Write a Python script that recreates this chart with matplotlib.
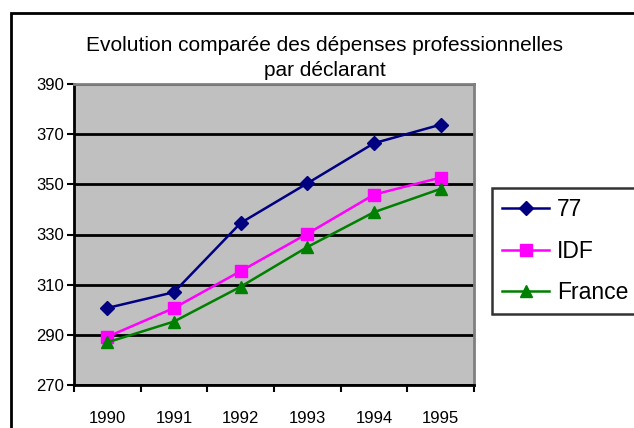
import matplotlib
matplotlib.use("Agg")
import matplotlib.pyplot as plt
from matplotlib.patches import Rectangle
import numpy as np

plt.rcParams['font.family'] = ['Liberation Sans', 'DejaVu Sans']

years = ["1990", "1991", "1992", "1993", "1994", "1995"]
s77 = [300.7, 307.0, 334.6, 350.4, 366.4, 373.8]
idf = [289.2, 300.7, 315.4, 330.3, 345.9, 352.7]
france = [287.0, 295.3, 309.2, 325.0, 338.9, 348.2]
title = "Evolution comparée des dépenses professionnelles\npar déclarant"

fig = plt.figure(figsize=(6.34, 4.28), dpi=100)
ax = fig.add_axes([74/634, 43/428, 400/634, 301/428])

x = np.arange(len(years))
ax.set_facecolor('#C0C0C0')
ax.plot(x, s77, color='#000080', marker='D', markersize=7, lw=1.8, label='77')
ax.plot(x, idf, color='#FF00FF', marker='s', markersize=9, lw=1.8, label='IDF')
ax.plot(x, france, color='#008000', marker='^', markersize=9, lw=1.8, label='France')

ax.set_xlim(-0.5, len(years) - 0.5)
ax.set_ylim(270, 390)
ax.set_yticks(np.arange(270, 391, 20))
ax.yaxis.grid(True, color='black', lw=2)
ax.set_axisbelow(True)

ax.set_xticks(np.arange(-0.5, len(years), 1.0))
ax.set_xticklabels([])
ax.set_xticks(x, minor=True)
ax.set_xticklabels(years, minor=True)
ax.tick_params(axis='x', which='minor', length=0, pad=19, labelsize=12)
ax.tick_params(axis='x', which='major', length=5, width=1.5, direction='out')
ax.tick_params(axis='y', length=5, width=1.5, direction='out', labelsize=12, pad=2)

for s in ['left', 'bottom']:
    ax.spines[s].set_color('black')
    ax.spines[s].set_linewidth(2)
for s in ['top', 'right']:
    ax.spines[s].set_color('#808080')
    ax.spines[s].set_linewidth(2)

fig.text(325/634, 1 - 58/428, title, ha='center', va='center', fontsize=15,
         linespacing=1.45)

leg = fig.legend(loc='upper left', bbox_to_anchor=(492/634, 1 - 188/428),
                 fontsize=16.5, frameon=True, fancybox=False, handlelength=2.05,
                 handletextpad=0.35, borderpad=0.45, labelspacing=0.8,
                 borderaxespad=0)
leg.get_frame().set_edgecolor('black')
leg.get_frame().set_linewidth(1.8)
leg.get_frame().set_facecolor('white')

fig.patches.append(Rectangle((11/634, -0.2), 1.2, 1.2 - 13/428,
                             transform=fig.transFigure, fill=False,
                             edgecolor='black', lw=2))

fig.savefig('out.png', dpi=100)
